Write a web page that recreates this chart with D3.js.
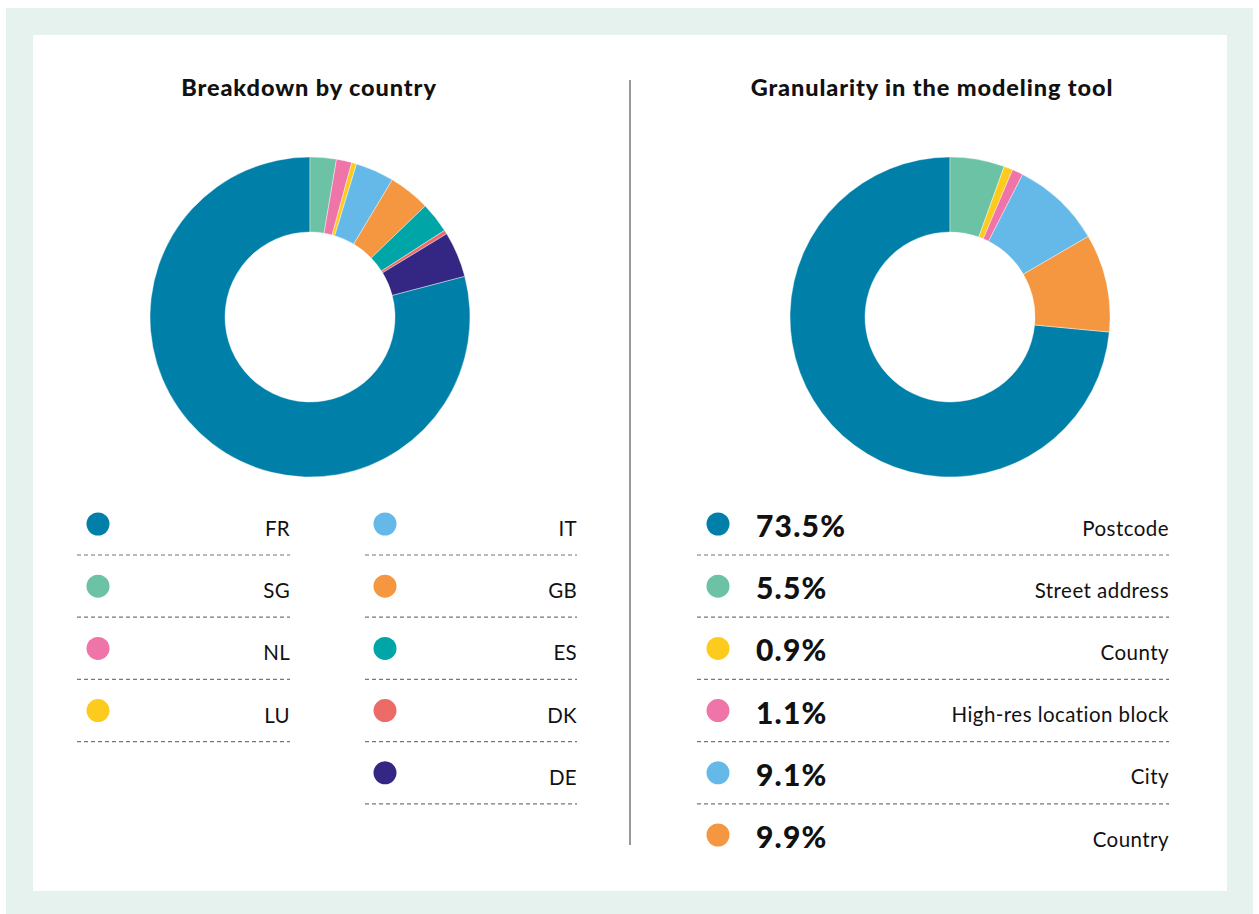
<!DOCTYPE html>
<html>
<head>
<meta charset="utf-8">
<script src="https://cdn.jsdelivr.net/npm/d3@7"></script>
<style>
  body { margin: 0; background: #fff; }
  svg { display: block; font-family: Lato, "Noto Sans", sans-serif; }
</style>
</head>
<body>
<svg id="chart"></svg>
<script>
// left chart: breakdown by country (shares in %)
const countries = ["FR", "SG", "NL", "LU", "IT", "GB", "ES", "DK", "DE"];
const countryShares = [79.1, 2.65, 1.55, 0.5, 3.9, 4.2, 3.1, 0.4, 4.6];
const countryColors = ["#0080a8", "#6cc2a4", "#ef74a8", "#fdcb1e", "#65b9e8", "#f59640", "#00a5a8", "#ec6b66", "#332783"];

// right chart: granularity
const levels = ["Postcode", "Street address", "County", "High-res location block", "City", "Country"];
const levelShares = [73.5, 5.5, 0.9, 1.1, 9.1, 9.9];
const levelColors = ["#0080a8", "#6cc2a4", "#fdcb1e", "#ef74a8", "#65b9e8", "#f59640"];

const width = 1259, height = 914;

const svg = d3.select("#chart")
  .attr("width", width)
  .attr("height", height)
  .attr("viewBox", [0, 0, width, height]);

// frame
svg.append("rect").attr("x", 6).attr("y", 8).attr("width", 1247).attr("height", 906).attr("fill", "#e6f2ee");
svg.append("rect").attr("x", 33).attr("y", 35).attr("width", 1194).attr("height", 856).attr("fill", "#fff");

// divider
svg.append("line")
  .attr("x1", 630).attr("x2", 630).attr("y1", 80).attr("y2", 845)
  .attr("stroke", "#777").attr("stroke-width", 1.5);

function donut(cx, cy, values, colors) {
  const total = d3.sum(values);
  const start = -values[0] / total * 2 * Math.PI;
  const pie = d3.pie().sort(null).startAngle(start).endAngle(start + 2 * Math.PI);
  const arc = d3.arc().innerRadius(85).outerRadius(160);
  svg.append("g")
    .attr("transform", `translate(${cx},${cy})`)
    .selectAll("path")
    .data(pie(values))
    .join("path")
    .attr("d", arc)
    .attr("fill", (d, i) => colors[i])
    .attr("stroke", "#fff")
    .attr("stroke-width", 0.4);
}

function title(x, text) {
  svg.append("text")
    .attr("x", x).attr("y", 96)
    .attr("text-anchor", "middle")
    .attr("font-size", 23.5).attr("font-weight", 900)
    .attr("letter-spacing", 0.9)
    .attr("fill", "#111")
    .text(text);
}

title(309, "Breakdown by country");
title(932, "Granularity in the modeling tool");

donut(310, 317, countryShares, countryColors);
donut(950, 317, levelShares, levelColors);

// left legend, two columns
const rowY = d3.scaleLinear().domain([0, 1]).range([524, 586.2]);
const cols = [{x0: 77, x1: 290, dot: 98}, {x0: 365, x1: 577, dot: 385}];
const leftLegend = svg.append("g");
countries.forEach((c, i) => {
  const col = cols[i < 4 ? 0 : 1];
  const r = i < 4 ? i : i - 4;
  const y = rowY(r);
  leftLegend.append("circle").attr("cx", col.dot).attr("cy", y).attr("r", 11.5).attr("fill", countryColors[i]);
  leftLegend.append("text")
    .attr("x", col.x1).attr("y", y + 12)
    .attr("text-anchor", "end").attr("font-size", 20.5).attr("fill", "#111")
    .attr("letter-spacing", 0.3)
    .text(c);
  leftLegend.append("line")
    .attr("x1", col.x0).attr("x2", col.x1).attr("y1", y + 31).attr("y2", y + 31)
    .attr("stroke", "#777").attr("stroke-width", 1.2).attr("stroke-dasharray", "4,3");
});

// right legend
const rightLegend = svg.append("g");
levels.forEach((l, i) => {
  const y = rowY(i);
  rightLegend.append("circle").attr("cx", 718).attr("cy", y).attr("r", 11.5).attr("fill", levelColors[i]);
  rightLegend.append("text")
    .attr("x", 756).attr("y", y + 13)
    .attr("font-size", 30).attr("font-weight", 900).attr("fill", "#111")
    .attr("letter-spacing", 1.2)
    .text(levelShares[i].toFixed(1) + "%");
  rightLegend.append("text")
    .attr("x", 1169).attr("y", y + 11.5)
    .attr("text-anchor", "end").attr("font-size", 20.5).attr("fill", "#111")
    .attr("letter-spacing", 0.45)
    .text(l);
  if (i < levels.length - 1) {
    rightLegend.append("line")
      .attr("x1", 697).attr("x2", 1169).attr("y1", y + 31).attr("y2", y + 31)
      .attr("stroke", "#777").attr("stroke-width", 1.2).attr("stroke-dasharray", "4,3");
  }
});
</script>
</body>
</html>
